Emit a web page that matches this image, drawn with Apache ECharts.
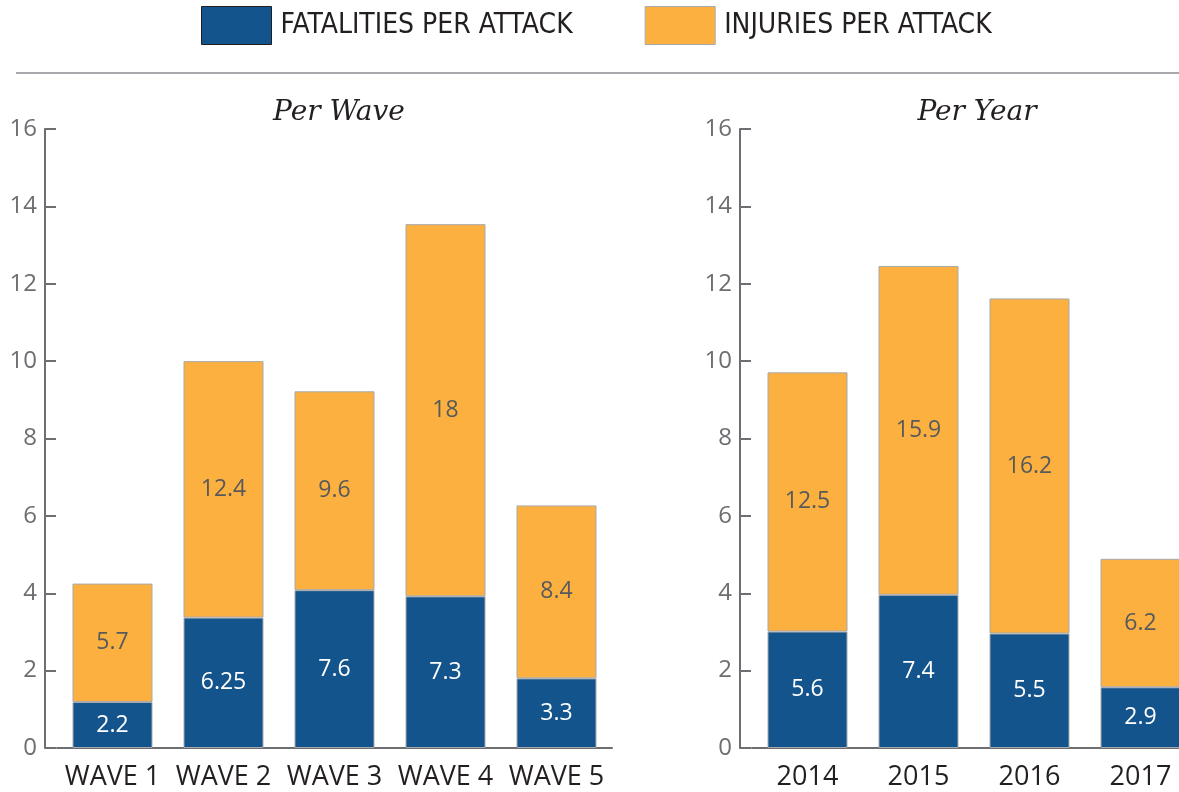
<!DOCTYPE html>
<html>
<head>
<meta charset="utf-8">
<script src="https://cdn.jsdelivr.net/npm/echarts@6/dist/echarts.min.js"></script>
<style>
  html, body { margin: 0; padding: 0; background: #fff; }
  #chart { width: 1179px; height: 792px; }
</style>
</head>
<body>
<div id="chart"></div>
<script>
// categories
const waves = ['WAVE 1', 'WAVE 2', 'WAVE 3', 'WAVE 4', 'WAVE 5'];
const years = ['2014', '2015', '2016', '2017'];

// bar heights as drawn against the axis
const waveFatalities = [1.19, 3.37, 4.08, 3.92, 1.80];
const waveInjuries = [3.06, 6.63, 5.14, 9.62, 4.47];
const yearFatalities = [3.01, 3.96, 2.96, 1.57];
const yearInjuries = [6.70, 8.50, 8.66, 3.32];

// printed labels on the bars
const waveFatalityLabels = ['2.2', '6.25', '7.6', '7.3', '3.3'];
const waveInjuryLabels = ['5.7', '12.4', '9.6', '18', '8.4'];
const yearFatalityLabels = ['5.6', '7.4', '5.5', '2.9'];
const yearInjuryLabels = ['12.5', '15.9', '16.2', '6.2'];

const BLUE = '#14548c';
const ORANGE = '#fbb040';
const AXIS = '#6d6e71';
const FONT = "'Open Sans', 'Noto Sans', sans-serif";
const SERIF = "'DejaVu Serif', 'Liberation Serif', serif";

const chart = echarts.init(document.getElementById('chart'));

function yAxisFor(gridIndex) {
  return {
    type: 'value',
    gridIndex: gridIndex,
    min: 0,
    max: 16,
    interval: 2,
    offset: 12,
    axisLine: { show: true, lineStyle: { color: AXIS, width: 2 } },
    axisTick: { show: true, inside: true, length: 11, lineStyle: { color: AXIS, width: 2 } },
    axisLabel: { color: AXIS, fontSize: 24, fontFamily: FONT, margin: 8 },
    splitLine: { show: false }
  };
}

function xAxisFor(gridIndex, cats) {
  return {
    type: 'category',
    gridIndex: gridIndex,
    data: cats,
    axisLine: { show: true, lineStyle: { color: AXIS, width: 2 } },
    axisTick: { show: false },
    axisLabel: { interval: 0, color: '#231f20', fontSize: 27, fontFamily: FONT, margin: 16 }
  };
}

function barSeries(name, axisIdx, stack, values, labels, color, labelColor) {
  return {
    name: name,
    type: 'bar',
    stack: stack,
    xAxisIndex: axisIdx,
    yAxisIndex: axisIdx,
    barWidth: 80,
    data: values,
    itemStyle: { color: color, borderColor: '#a7a9ac', borderWidth: 1 },
    label: {
      show: true,
      position: 'inside',
      color: labelColor,
      fontSize: 23,
      fontFamily: FONT,
      formatter: p => labels[p.dataIndex]
    }
  };
}

const option = {
  backgroundColor: '#fff',
  animation: false,
  legend: {
    top: 6,
    left: 201,
    padding: 0,
    itemWidth: 70,
    itemHeight: 38,
    itemGap: 72,
    icon: 'rect',
    textStyle: {
      color: '#231f20',
      fontSize: 28,
      fontFamily: "'Liberation Sans Narrow', 'DejaVu Sans Condensed', sans-serif",
      padding: [0, 0, 0, 4]
    },
    data: [
      { name: 'FATALITIES PER ATTACK', itemStyle: { borderColor: '#231f20', borderWidth: 1 } },
      { name: 'INJURIES PER ATTACK', itemStyle: { borderColor: '#a7a9ac', borderWidth: 1 } }
    ]
  },
  title: [
    {
      text: 'Per Wave',
      left: 334, top: 94, textAlign: 'center',
      textStyle: { fontFamily: SERIF, fontStyle: 'italic', fontWeight: 'normal', fontSize: 28, color: '#231f20' }
    },
    {
      text: 'Per Year',
      left: 972, top: 94, textAlign: 'center',
      textStyle: { fontFamily: SERIF, fontStyle: 'italic', fontWeight: 'normal', fontSize: 28, color: '#231f20' }
    }
  ],
  graphic: [
    { type: 'line', shape: { x1: 16, y1: 73, x2: 1179, y2: 73 }, style: { stroke: '#a7a9ac', lineWidth: 2 } }
  ],
  grid: [
    { left: 57, top: 129, width: 555, height: 619, outerBoundsMode: 'none' },
    { left: 752, top: 129, width: 444, height: 619, outerBoundsMode: 'none' }
  ],
  xAxis: [xAxisFor(0, waves), xAxisFor(1, years)],
  yAxis: [yAxisFor(0), yAxisFor(1)],
  series: [
    barSeries('FATALITIES PER ATTACK', 0, 'wave', waveFatalities, waveFatalityLabels, BLUE, '#ffffff'),
    barSeries('INJURIES PER ATTACK', 0, 'wave', waveInjuries, waveInjuryLabels, ORANGE, '#58595b'),
    barSeries('FATALITIES PER ATTACK', 1, 'year', yearFatalities, yearFatalityLabels, BLUE, '#ffffff'),
    barSeries('INJURIES PER ATTACK', 1, 'year', yearInjuries, yearInjuryLabels, ORANGE, '#58595b')
  ]
};

chart.setOption(option);
</script>
</body>
</html>
